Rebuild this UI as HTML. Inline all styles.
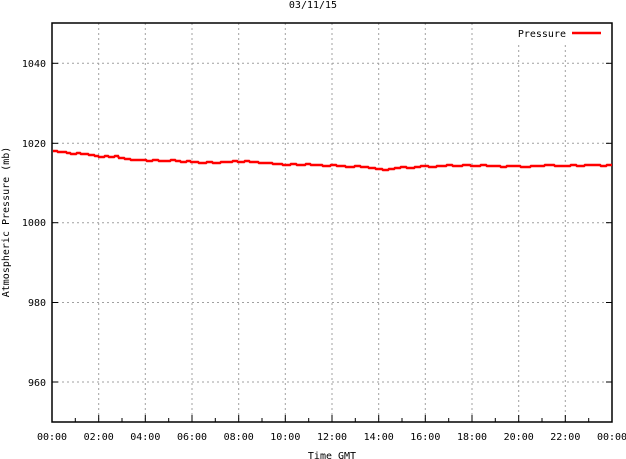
<!DOCTYPE html>
<html><head><meta charset="utf-8"><style>
body{margin:0;background:#fff;}
svg{display:block;font-family:"DejaVu Sans Mono","Liberation Mono",monospace;font-size:10px;}
</style></head><body>
<svg width="626" height="459" xmlns="http://www.w3.org/2000/svg">
<rect width="626" height="459" fill="#fff"/>
<g stroke="#a0a0a0" stroke-width="1" stroke-dasharray="2,3">
<line x1="98.7" y1="23" x2="98.7" y2="422"/><line x1="145.3" y1="23" x2="145.3" y2="422"/>
<line x1="192" y1="23" x2="192" y2="422"/><line x1="238.7" y1="23" x2="238.7" y2="422"/>
<line x1="285.3" y1="23" x2="285.3" y2="422"/><line x1="332" y1="23" x2="332" y2="422"/>
<line x1="378.7" y1="23" x2="378.7" y2="422"/><line x1="425.3" y1="23" x2="425.3" y2="422"/>
<line x1="472" y1="23" x2="472" y2="422"/><line x1="518.7" y1="45" x2="518.7" y2="422"/>
<line x1="565.3" y1="45" x2="565.3" y2="422"/>
<line x1="52" y1="63.3" x2="612" y2="63.3"/><line x1="52" y1="143.3" x2="612" y2="143.3"/>
<line x1="52" y1="222.7" x2="612" y2="222.7"/><line x1="52" y1="302.5" x2="612" y2="302.5"/>
<line x1="52" y1="382" x2="612" y2="382"/>
</g>
<rect x="52" y="23" width="560" height="399" fill="none" stroke="#000" stroke-width="1.5"/>
<g stroke="#000" stroke-width="1">
<line x1="52" y1="422" x2="52" y2="415"/><line x1="75.3" y1="422" x2="75.3" y2="418"/>
<line x1="98.7" y1="422" x2="98.7" y2="415"/><line x1="122" y1="422" x2="122" y2="418"/>
<line x1="145.3" y1="422" x2="145.3" y2="415"/><line x1="168.7" y1="422" x2="168.7" y2="418"/>
<line x1="192" y1="422" x2="192" y2="415"/><line x1="215.3" y1="422" x2="215.3" y2="418"/>
<line x1="238.7" y1="422" x2="238.7" y2="415"/><line x1="262" y1="422" x2="262" y2="418"/>
<line x1="285.3" y1="422" x2="285.3" y2="415"/><line x1="308.7" y1="422" x2="308.7" y2="418"/>
<line x1="332" y1="422" x2="332" y2="415"/><line x1="355.3" y1="422" x2="355.3" y2="418"/>
<line x1="378.7" y1="422" x2="378.7" y2="415"/><line x1="402" y1="422" x2="402" y2="418"/>
<line x1="425.3" y1="422" x2="425.3" y2="415"/><line x1="448.7" y1="422" x2="448.7" y2="418"/>
<line x1="472" y1="422" x2="472" y2="415"/><line x1="495.3" y1="422" x2="495.3" y2="418"/>
<line x1="518.7" y1="422" x2="518.7" y2="415"/><line x1="542" y1="422" x2="542" y2="418"/>
<line x1="565.3" y1="422" x2="565.3" y2="415"/><line x1="588.7" y1="422" x2="588.7" y2="418"/>
<line x1="52" y1="63.3" x2="58" y2="63.3"/><line x1="52" y1="143.3" x2="58" y2="143.3"/>
<line x1="52" y1="222.7" x2="58" y2="222.7"/><line x1="52" y1="302.5" x2="58" y2="302.5"/>
<line x1="52" y1="382" x2="58" y2="382"/>
<line x1="606" y1="63.3" x2="612" y2="63.3"/><line x1="606" y1="143.3" x2="612" y2="143.3"/>
<line x1="606" y1="222.7" x2="612" y2="222.7"/><line x1="606" y1="302.5" x2="612" y2="302.5"/>
<line x1="606" y1="382" x2="612" y2="382"/>
</g>
<g fill="#000">
<text x="313" y="8" text-anchor="middle">03/11/15</text>
<text x="46" y="67" text-anchor="end">1040</text>
<text x="46" y="147" text-anchor="end">1020</text>
<text x="46" y="226" text-anchor="end">1000</text>
<text x="46" y="306" text-anchor="end">980</text>
<text x="46" y="386" text-anchor="end">960</text>
<g text-anchor="middle">
<text x="52" y="440">00:00</text><text x="98.7" y="440">02:00</text><text x="145.3" y="440">04:00</text>
<text x="192" y="440">06:00</text><text x="238.7" y="440">08:00</text><text x="285.3" y="440">10:00</text>
<text x="332" y="440">12:00</text><text x="378.7" y="440">14:00</text><text x="425.3" y="440">16:00</text>
<text x="472" y="440">18:00</text><text x="518.7" y="440">20:00</text><text x="565.3" y="440">22:00</text>
<text x="612" y="440">00:00</text>
</g>
<text x="332" y="459" text-anchor="middle">Time GMT</text>
<text transform="translate(9,222) rotate(-90)" text-anchor="middle">Atmospheric Pressure (mb)</text>
<text x="566" y="37" text-anchor="end">Pressure</text>
</g>
<line x1="572" y1="33" x2="601" y2="33" stroke="#f00" stroke-width="2.5"/>
<polyline fill="none" stroke="#f00" stroke-width="2.5" points="53,151 57,151 58,152 66,152 67,153 70,153 71,154 76,154 77,153 80,153 81,154 88,154 89,155 94,155 95,156 98,156 99,157 104,157 105,156 108,156 109,157 114,157 115,156 118,156 119,158 124,158 125,159 130,159 131,160 146,160 147,161 152,161 153,160 158,160 159,161 170,161 171,160 175,160 176,161 180,161 181,162 186,162 187,161 190,161 191,162 198,162 199,163 206,163 207,162 212,162 213,163 220,163 221,162 232,162 233,161 237,161 238,162 244,162 245,161 249,161 250,162 258,162 259,163 272,163 273,164 282,164 283,165 290,165 291,164 296,164 297,165 305,165 306,164 310,164 311,165 322,165 323,166 330,166 331,165 336,165 337,166 345,166 346,167 354,167 355,166 360,166 361,167 368,167 369,168 375,168 376,169 382,169 383,170 388,170 389,169 394,169 395,168 400,168 401,167 406,167 407,168 414,168 415,167 420,167 421,166 428,166 429,167 436,167 437,166 446,166 447,165 452,165 453,166 462,166 463,165 470,165 471,166 480,166 481,165 486,165 487,166 500,166 501,167 506,167 507,166 520,166 521,167 530,167 531,166 544,166 545,165 554,165 555,166 570,166 571,165 576,165 577,166 584,166 585,165 600,165 601,166 606,166 607,165 612,165"/>
</svg>
</body></html>
